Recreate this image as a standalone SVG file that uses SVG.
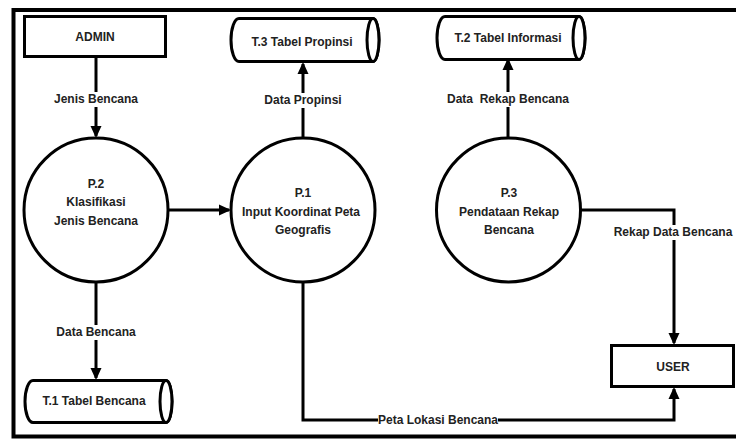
<svg xmlns="http://www.w3.org/2000/svg" width="736" height="439" viewBox="0 0 736 439">
<defs>
<marker id="ah" markerWidth="12" markerHeight="12" refX="10" refY="6" orient="auto" markerUnits="userSpaceOnUse">
<path d="M0,0.5 L12,6 L0,11.5 Z" fill="#000"/>
</marker>
<style>
.t{font-family:"Liberation Sans",Arial,sans-serif;font-size:12px;font-weight:bold;fill:#222;text-anchor:middle}
.shape{fill:#fff;stroke:#000;stroke-width:3}
.ln{fill:none;stroke:#000;stroke-width:3}
.bg{fill:#fff}
</style>
</defs>
<rect x="0" y="0" width="736" height="439" fill="#fff"/>
<path d="M736,10 H13.5 V436.5 H736" fill="none" stroke="#000" stroke-width="4"/>

<g id="connectors">
<line class="ln" x1="96" y1="57" x2="96" y2="136" marker-end="url(#ah)"/>
<line class="ln" x1="168" y1="210" x2="229" y2="210" marker-end="url(#ah)"/>
<line class="ln" x1="303" y1="138" x2="303" y2="64" marker-end="url(#ah)"/>
<line class="ln" x1="508" y1="138" x2="508" y2="60" marker-end="url(#ah)"/>
<line class="ln" x1="96" y1="282" x2="96" y2="378" marker-end="url(#ah)"/>
<path class="ln" d="M580.5,210 H674 V343" marker-end="url(#ah)"/>
<path class="ln" d="M303,282 V420 H674 V389" marker-end="url(#ah)"/>
<rect class="bg" x="52" y="92" width="88" height="15"/>
<text class="t" x="96" y="103">Jenis Bencana</text>
<rect class="bg" x="259" y="93" width="88" height="15"/>
<text class="t" x="303" y="104">Data Propinsi</text>
<rect class="bg" x="442" y="92" width="133" height="15"/>
<text class="t" x="508" y="103" xml:space="preserve">Data  Rekap Bencana</text>
<rect class="bg" x="611" y="225" width="124" height="15"/>
<text class="t" x="673" y="236">Rekap Data Bencana</text>
<rect class="bg" x="52" y="325" width="88" height="15"/>
<text class="t" x="96" y="336">Data Bencana</text>
<rect class="bg" x="378" y="413" width="120" height="14"/>
<text class="t" x="438" y="424">Peta Lokasi Bencana</text>
</g>

<g id="admin">
<rect class="shape" x="24.5" y="16.5" width="141" height="40"/>
<text class="t" x="95" y="41">ADMIN</text>
</g>

<g id="user">
<rect class="shape" x="611.5" y="345.5" width="122" height="41"/>
<text class="t" x="673" y="371">USER</text>
</g>

<g id="t3">
<path class="shape" d="M239,18.5 H373 A6,21.5 0 0 1 373,61.5 H239 A8,21.5 0 0 1 239,18.5 Z"/>
<ellipse class="shape" cx="373" cy="40" rx="6" ry="21.5"/>
<text class="t" x="302" y="46">T.3 Tabel Propinsi</text>
</g>

<g id="t2">
<path class="shape" d="M445,16.5 H579 A6,21.5 0 0 1 579,59.5 H445 A8,21.5 0 0 1 445,16.5 Z"/>
<ellipse class="shape" cx="579" cy="38" rx="6" ry="21.5"/>
<text class="t" x="508" y="42">T.2 Tabel Informasi</text>
</g>

<g id="t1">
<path class="shape" d="M33,380.5 H166 A6,21 0 0 1 166,422.5 H33 A8,21 0 0 1 33,380.5 Z"/>
<ellipse class="shape" cx="166" cy="401.5" rx="6" ry="21"/>
<text class="t" x="94" y="405">T.1 Tabel Bencana</text>
</g>

<g id="p2">
<circle class="shape" cx="96" cy="210" r="72"/>
<text class="t" x="96" y="188">P.2</text>
<text class="t" x="96" y="206">Klasifikasi</text>
<text class="t" x="96" y="225">Jenis Bencana</text>
</g>

<g id="p1">
<circle class="shape" cx="303" cy="210" r="72"/>
<text class="t" x="303" y="197">P.1</text>
<text class="t" x="301" y="216">Input Koordinat Peta</text>
<text class="t" x="303" y="234">Geografis</text>
</g>

<g id="p3">
<circle class="shape" cx="508.5" cy="210" r="72"/>
<text class="t" x="509" y="197">P.3</text>
<text class="t" x="509" y="216">Pendataan Rekap</text>
<text class="t" x="509" y="234">Bencana</text>
</g>
</svg>
